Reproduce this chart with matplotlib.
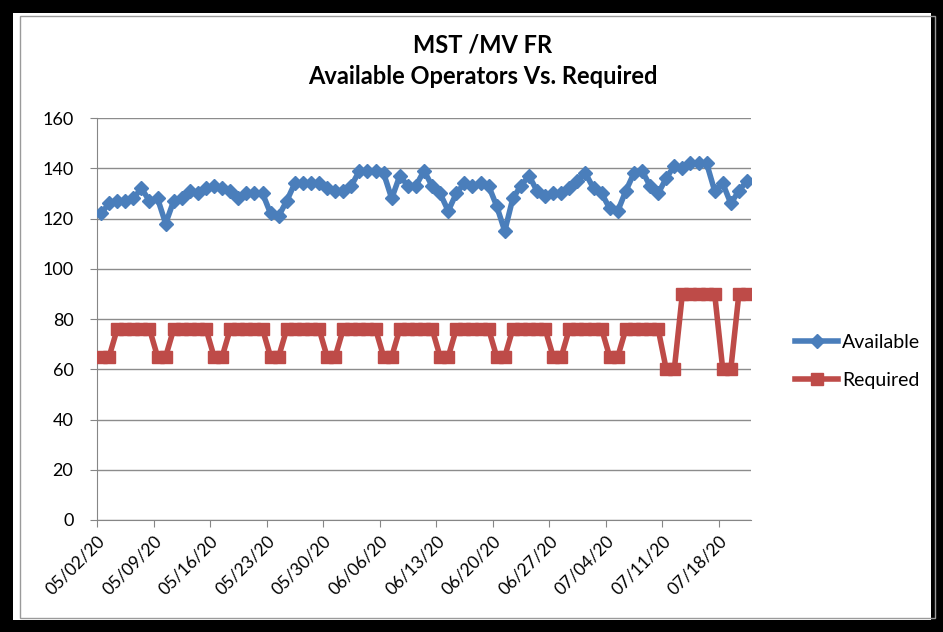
import matplotlib.pyplot as plt
from matplotlib.patches import Rectangle
import numpy as np
import datetime as dt

# daily data, 05/02/20 .. 07/21/20
start = dt.date(2020, 5, 2)
available = [122, 126, 127, 127, 128, 132, 127, 128, 118, 127,
             128, 131, 130, 132, 133, 132, 131, 128, 130, 130,
             130, 122, 121, 127, 134, 134, 134, 134, 132, 131,
             131, 133, 139, 139, 139, 138, 128, 137, 133, 133,
             139, 133, 130, 123, 130, 134, 133, 134, 133, 125,
             115, 128, 133, 137, 131, 129, 130, 130, 132, 135,
             138, 132, 130, 124, 123, 131, 138, 139, 133, 130,
             136, 141, 140, 142, 142, 142, 131, 134, 126, 131,
             135]
required = [65, 65, 76, 76, 76, 76, 76, 65, 65, 76, 76, 76, 76, 76,
            65, 65, 76, 76, 76, 76, 76, 65, 65, 76, 76, 76, 76, 76,
            65, 65, 76, 76, 76, 76, 76, 65, 65, 76, 76, 76, 76, 76,
            65, 65, 76, 76, 76, 76, 76, 65, 65, 76, 76, 76, 76, 76,
            65, 65, 76, 76, 76, 76, 76, 65, 65, 76, 76, 76, 76, 76,
            60, 60, 90, 90, 90, 90, 90, 60, 60, 90, 90]

n = len(required)
days = np.arange(n)
dates = [start + dt.timedelta(days=int(i)) for i in days]
tick_idx = days[::7]
tick_labels = [dates[i].strftime("%m/%d/%y") for i in tick_idx]

blue = "#4A7EBB"
red = "#BE4B48"

plt.rcParams["font.family"] = ["Lato", "DejaVu Sans"]

fig = plt.figure(figsize=(9.43, 6.32), dpi=100)
ax = fig.add_axes([97 / 943, 1 - 520 / 632, 654 / 943, 402 / 632])

ax.plot(days, available, color=blue, lw=4, marker="D", ms=7.5,
        label="Available", zorder=3)
ax.plot(days, required, color=red, lw=4, marker="s", ms=9,
        label="Required", zorder=3)

ax.set_ylim(0, 160)
ax.set_yticks(np.arange(0, 161, 20))
ax.set_xlim(-0.5, n - 0.5)
ax.set_xticks(tick_idx - 0.5)
ax.set_xticklabels(tick_labels, rotation=45, ha="right",
                   rotation_mode="anchor", fontsize=12.5)
ax.tick_params(axis="y", labelsize=13, length=5, pad=12, color="#868686")
ax.tick_params(axis="x", length=5, pad=4, color="#868686")
ax.grid(axis="y", color="#8c8c8c", lw=1)
ax.set_axisbelow(True)
for s in ["top", "right"]:
    ax.spines[s].set_visible(False)
for s in ["left", "bottom"]:
    ax.spines[s].set_color("#868686")

fig.text(0.512, 1 - 45 / 632, "MST /MV FR", ha="center", va="center",
         fontsize=17, fontweight="bold")
fig.text(0.512, 1 - 76 / 632, "Available Operators Vs. Required",
         ha="center", va="center", fontsize=17, fontweight="bold")

ax.legend(loc="center left", bbox_to_anchor=(1.041, 0.395), frameon=False,
          fontsize=14, handlelength=2.2, labelspacing=1.1, handletextpad=0.2)

# black frame around the screenshot
fig.patches.append(Rectangle((0, 0), 1, 1, transform=fig.transFigure,
                             fill=False, ec="black", lw=18, zorder=10))
fig.patches.append(Rectangle((20 / 943, 14 / 632), 915 / 943, 602 / 632,
                             transform=fig.transFigure, fill=False,
                             ec="#9a9a9a", lw=1, zorder=10))

fig.savefig("out.png", dpi=100)
